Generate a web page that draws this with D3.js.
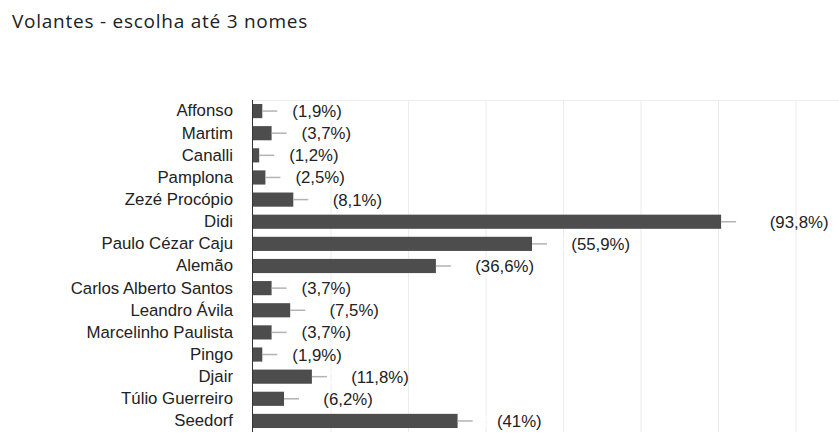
<!DOCTYPE html>
<html>
<head>
<meta charset="utf-8">
<script src="https://cdn.jsdelivr.net/npm/d3@7"></script>
<style>
  html, body { margin: 0; padding: 0; background: #fff; overflow: hidden; }
  svg { display: block; }
</style>
</head>
<body>
<div id="chart"></div>
<script>
var svgWidth = 839;
var svgHeight = 435;

// values (counts out of 161 answers)
var names = ["Affonso", "Martim", "Canalli", "Pamplona", "Zezé Procópio", "Didi",
  "Paulo Cézar Caju", "Alemão", "Carlos Alberto Santos", "Leandro Ávila",
  "Marcelinho Paulista", "Pingo", "Djair", "Túlio Guerreiro", "Seedorf"];
var counts = [3, 6, 2, 4, 13, 151, 90, 59, 6, 12, 6, 3, 19, 10, 66];
var percents = ["1,9%", "3,7%", "1,2%", "2,5%", "8,1%", "93,8%", "55,9%", "36,6%",
  "3,7%", "7,5%", "3,7%", "1,9%", "11,8%", "6,2%", "41%"];
var gridTicks = [0, 25, 50, 75, 100, 125, 150, 175, 200];

var margin = { top: 100, left: 253, bottom: 3 };
var plotRight = 873;
var labelFont = "'Liberation Sans', Arial, sans-serif";

var svg = d3.select("#chart")
  .append("svg")
  .attr("width", svgWidth)
  .attr("height", svgHeight);

svg.append("text")
  .attr("x", 12)
  .attr("y", 28)
  .attr("font-family", "'Open Sans', Roboto, sans-serif")
  .attr("font-size", "19px")
  .attr("letter-spacing", "0.75px")
  .attr("fill", "#202124")
  .text("Volantes - escolha até 3 nomes");

var x = d3.scaleLinear()
  .domain([0, 200])
  .range([margin.left, plotRight]);

var y = d3.scaleBand()
  .domain(names)
  .range([margin.top, svgHeight - margin.bottom])
  .paddingInner(0.36)
  .paddingOuter(0.18);

// gridlines
svg.append("g")
  .selectAll("line")
  .data(gridTicks.slice(1))
  .enter()
  .append("line")
  .attr("x1", d => x(d) + 0.5)
  .attr("x2", d => x(d) + 0.5)
  .attr("y1", margin.top)
  .attr("y2", svgHeight - margin.bottom)
  .attr("stroke", "#ececec")
  .attr("stroke-width", 1);

svg.append("line")
  .attr("x1", margin.left)
  .attr("x2", svgWidth)
  .attr("y1", margin.top + 0.5)
  .attr("y2", margin.top + 0.5)
  .attr("stroke", "#ececec");

// category labels
var yAxis = d3.axisLeft(y).tickSize(0).tickPadding(20);
var yg = svg.append("g")
  .attr("transform", `translate(${margin.left}, 0)`)
  .call(yAxis);
yg.select(".domain").remove();
yg.selectAll("text")
  .attr("font-family", labelFont)
  .attr("font-size", "16.8px")
  .attr("fill", "#222");

var rows = names.map((n, i) => ({ name: n, count: counts[i], pct: percents[i] }));

// bars
svg.append("g")
  .selectAll("rect")
  .data(rows)
  .enter()
  .append("rect")
  .attr("x", x(0))
  .attr("y", d => y(d.name))
  .attr("width", d => x(d.count) - x(0))
  .attr("height", y.bandwidth())
  .attr("fill", "#4d4d4d");

// little stems after each bar
svg.append("g")
  .selectAll("line")
  .data(rows)
  .enter()
  .append("line")
  .attr("x1", d => x(d.count))
  .attr("x2", d => x(d.count) + 15)
  .attr("y1", d => y(d.name) + y.bandwidth() / 2)
  .attr("y2", d => y(d.name) + y.bandwidth() / 2)
  .attr("stroke", "#b3b3b3")
  .attr("stroke-width", 1.5);

// value labels: count is printed in white, only the percent shows
var labels = svg.append("g")
  .selectAll("text")
  .data(rows)
  .enter()
  .append("text")
  .attr("x", d => x(d.count) + 16)
  .attr("y", d => y(d.name) + y.bandwidth() / 2 + 6)
  .attr("font-family", labelFont)
  .attr("font-size", "16.8px")
  .attr("fill", "#222");
labels.append("tspan").attr("fill", "#fff").text(d => d.count);
labels.append("tspan").text(d => " (" + d.pct + ")");

// axis line
svg.append("line")
  .attr("x1", margin.left - 0.5)
  .attr("x2", margin.left - 0.5)
  .attr("y1", margin.top)
  .attr("y2", svgHeight - margin.bottom)
  .attr("stroke", "#333")
  .attr("stroke-width", 1);
</script>
</body>
</html>
